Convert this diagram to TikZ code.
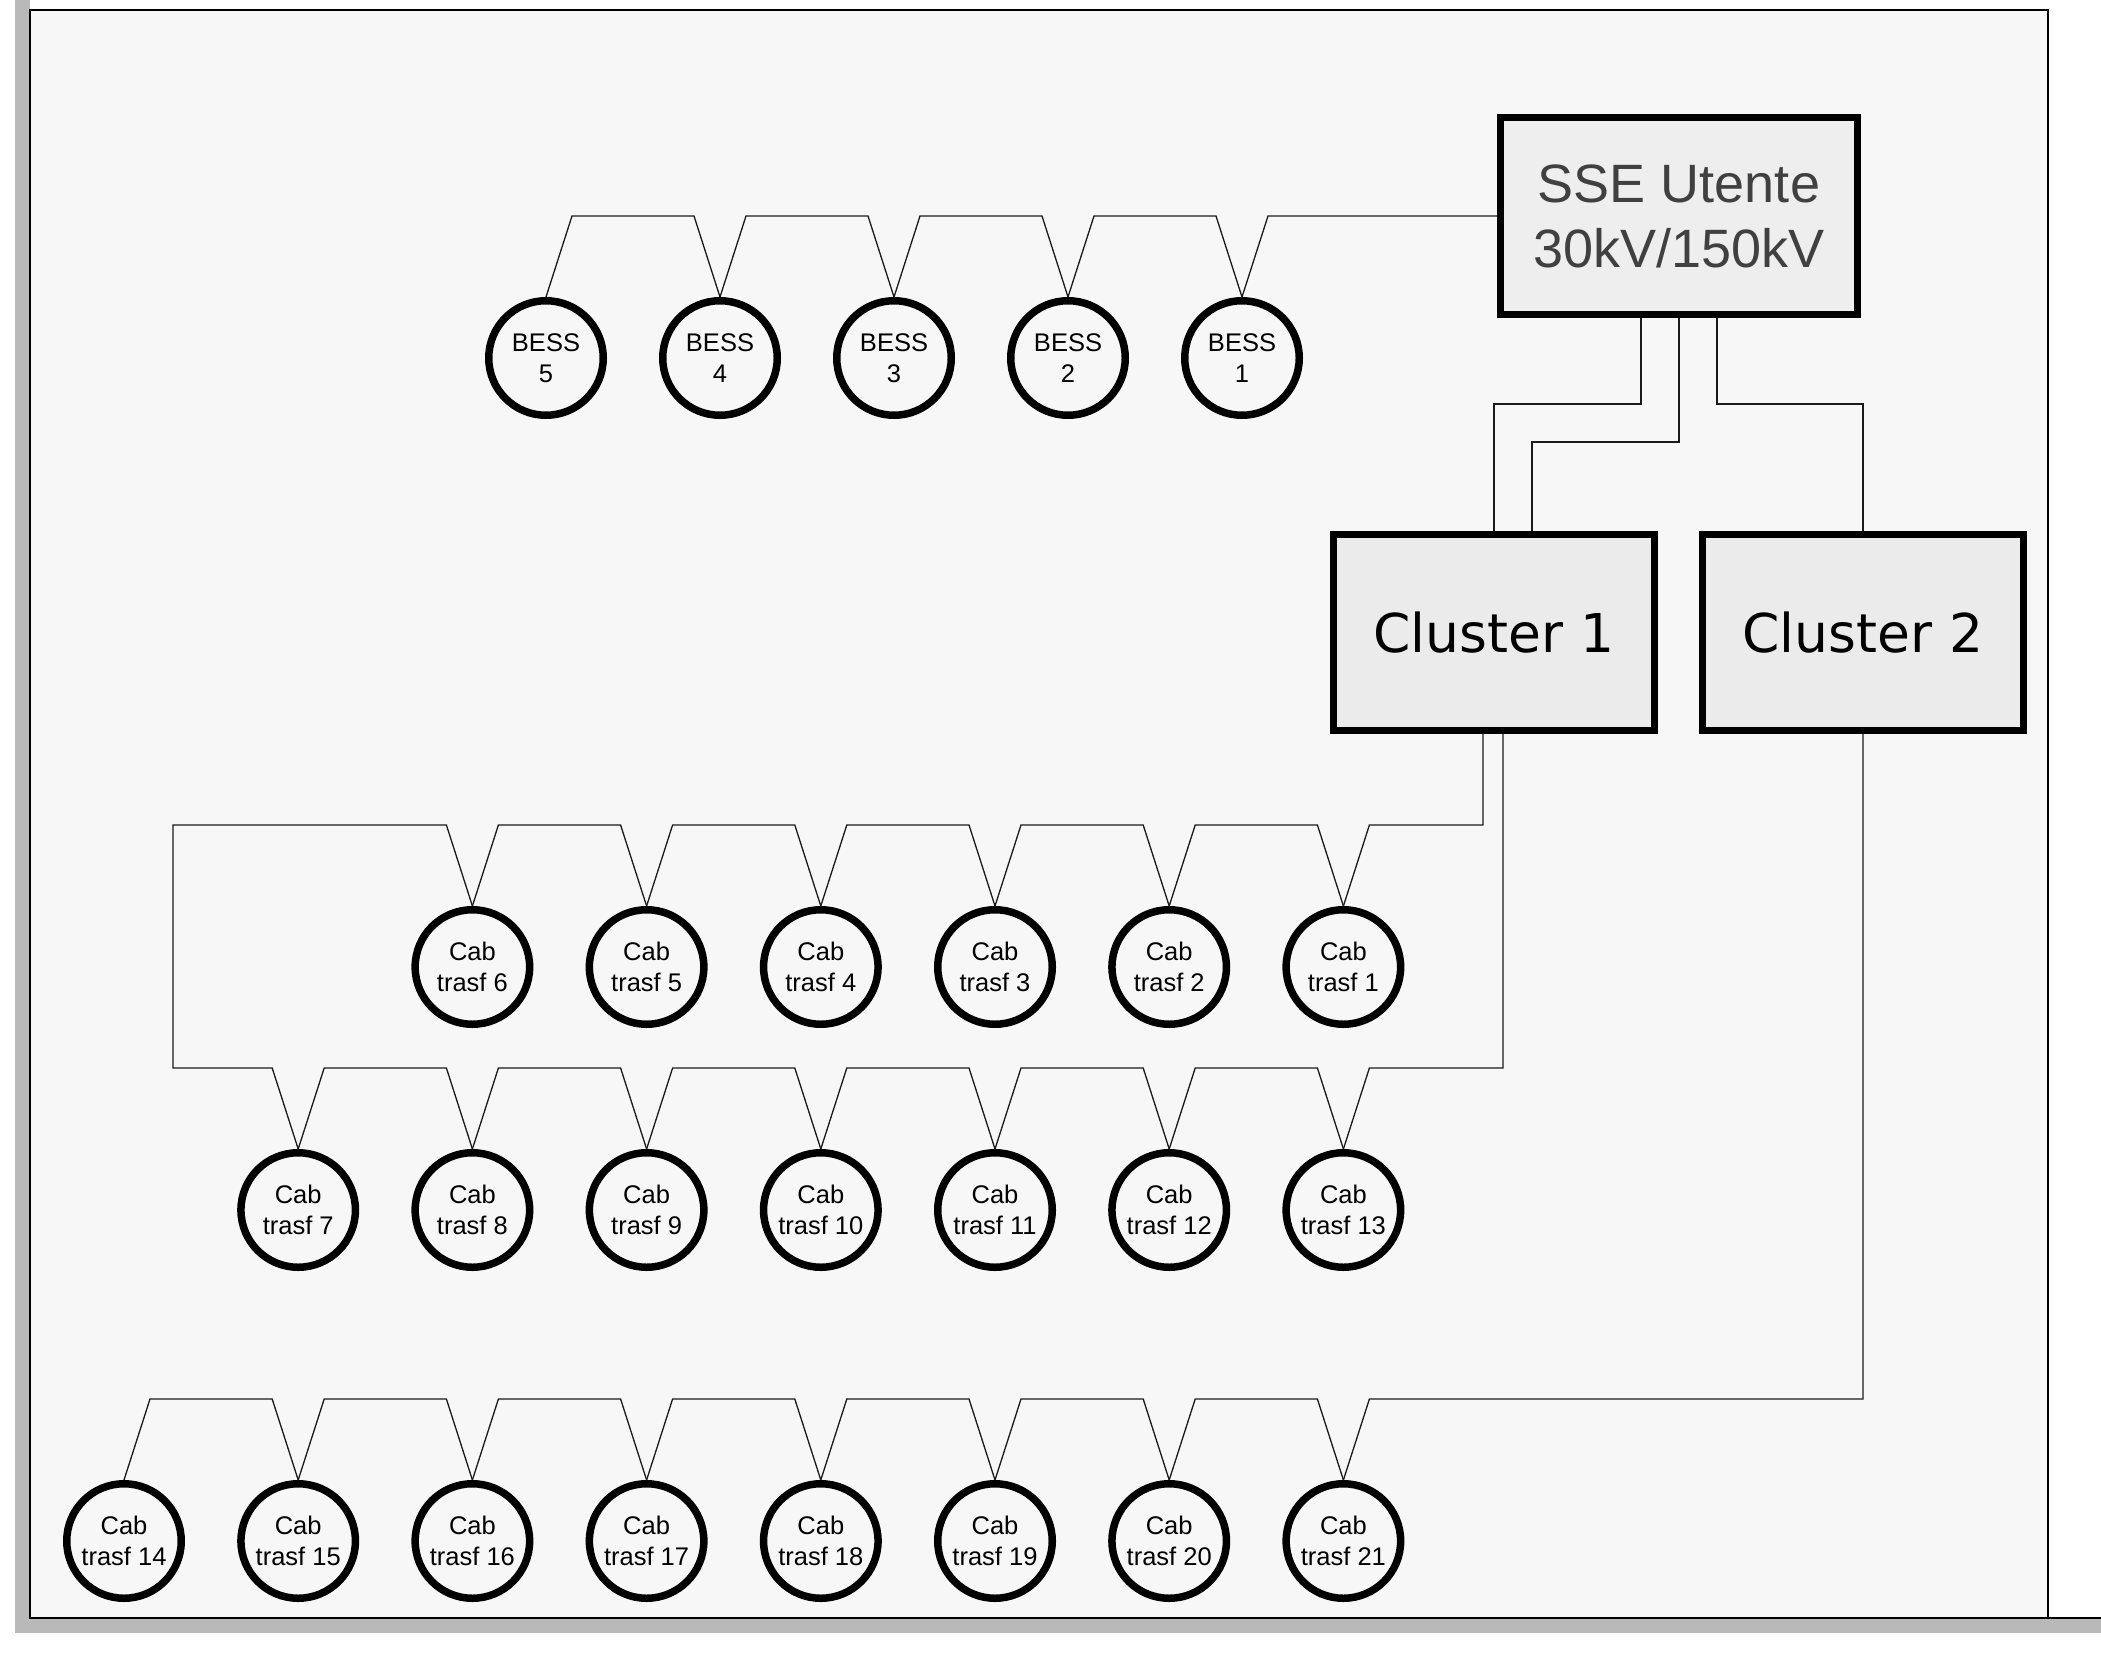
\documentclass[tikz,border=0pt]{standalone}
\usepackage{fontspec}
\setmainfont{Liberation Sans}
\newfontfamily\clusterfont{DejaVu Sans}
\usetikzlibrary{calc}
\definecolor{pagebg}{HTML}{F7F7F7}
\definecolor{shadowgray}{HTML}{B9B9B9}
\definecolor{boxfill}{HTML}{EEEEEE}
\definecolor{clusterfill}{HTML}{EBEBEB}
\definecolor{ssetext}{HTML}{404040}
\definecolor{wirecolor}{HTML}{1A1A1A}

\begin{document}
\begin{tikzpicture}[x=1bp,y=-1bp,
  unit/.style={circle, draw=black, line width=7.5bp, fill=pagebg, minimum size=114.5bp,
    inner sep=0pt, align=center, font=\fontsize{25.5bp}{31bp}\selectfont},
  station/.style={rectangle, draw=black, line width=7bp, fill=boxfill,
    minimum width=357bp, minimum height=197bp, align=center, text=ssetext,
    font=\fontsize{54bp}{65bp}\selectfont},
  cluster/.style={rectangle, draw=black, line width=7bp, fill=clusterfill,
    minimum width=321bp, minimum height=196bp,
    font=\clusterfont\fontsize{53.5bp}{64bp}\selectfont},
  wire/.style={draw=wirecolor, line width=1.3bp, line join=miter}
]
\useasboundingbox (0,0) rectangle (2101,1655);
\fill[white] (0,0) rectangle (2101,1655);

% sheet with its shadow
\fill[shadowgray] (15,0) rectangle (30,1633);
\fill[shadowgray] (15,1618) rectangle (2101,1633);
\draw[fill=pagebg, line width=1.3bp] (30,10) rectangle (2048,1618);
\draw[line width=1.3bp] (2048,1618) -- (2101,1618);

% substation and clusters
\node[station] (sse) at (1679,216) {SSE Utente\\30kV/150kV};
\node[cluster] (cl1) at (1494,632.5) {Cluster 1};
\node[cluster] (cl2) at (1863,632.5) {Cluster 2};

% storage units
\foreach \i/\x in {1/1242,2/1068,3/894,4/720,5/546}
  \node[unit] (b\i) at (\x,358) {BESS\\\i};

% transformer cabins
\foreach \i in {1,...,6} {
  \pgfmathsetmacro\cx{124+174.2*(8-\i)}
  \node[unit] (c\i) at (\cx,967) {Cab\\trasf \i};
}
\foreach \i in {7,...,13} {
  \pgfmathsetmacro\cx{124+174.2*(\i-6)}
  \node[unit] (c\i) at (\cx,1210) {Cab\\trasf \i};
}
\foreach \i in {14,...,21} {
  \pgfmathsetmacro\cx{124+174.2*(\i-14)}
  \node[unit] (c\i) at (\cx,1541) {Cab\\trasf \i};
}

% substation to clusters
\draw[wire] ($(sse.south)+(-38,0)$) -- ++(0,86) -| (cl1.north);
\draw[wire] (sse.south) -- ++(0,124) -| ($(cl1.north)+(38,0)$);
\draw[wire] ($(sse.south)+(38,0)$) -- ++(0,86) -| (cl2.north);

% storage feeder
\draw[wire] (sse.west) -- ($(b1.north)+(26,-81)$) -- (b1.north);
\foreach \a/\b in {1/2,2/3,3/4,4/5}
  \draw[wire] (b\a.north) -- ++(-26,-81) -- ($(b\b.north)+(26,-81)$) -- (b\b.north);

% cluster 1 ring
\coordinate (loopL) at (173,1068);
\draw[wire] ($(cl1.south)+(-11,0)$) |- ($(c1.north)+(26,-81)$) -- (c1.north);
\foreach \a/\b in {1/2,2/3,3/4,4/5,5/6}
  \draw[wire] (c\a.north) -- ++(-26,-81) -- ($(c\b.north)+(26,-81)$) -- (c\b.north);
\draw[wire] (c6.north) -- ++(-26,-81) -| (loopL) -- ($(c7.north)+(-26,-81)$) -- (c7.north);
\foreach \a/\b in {7/8,8/9,9/10,10/11,11/12,12/13}
  \draw[wire] (c\a.north) -- ++(26,-81) -- ($(c\b.north)+(-26,-81)$) -- (c\b.north);
\draw[wire] (c13.north) -- ++(26,-81) -| ($(cl1.south)+(9,0)$);

% cluster 2 feeder
\draw[wire] (cl2.south) |- ($(c21.north)+(26,-81)$) -- (c21.north);
\foreach \a/\b in {21/20,20/19,19/18,18/17,17/16,16/15,15/14}
  \draw[wire] (c\a.north) -- ++(-26,-81) -- ($(c\b.north)+(26,-81)$) -- (c\b.north);
\end{tikzpicture}
\end{document}
